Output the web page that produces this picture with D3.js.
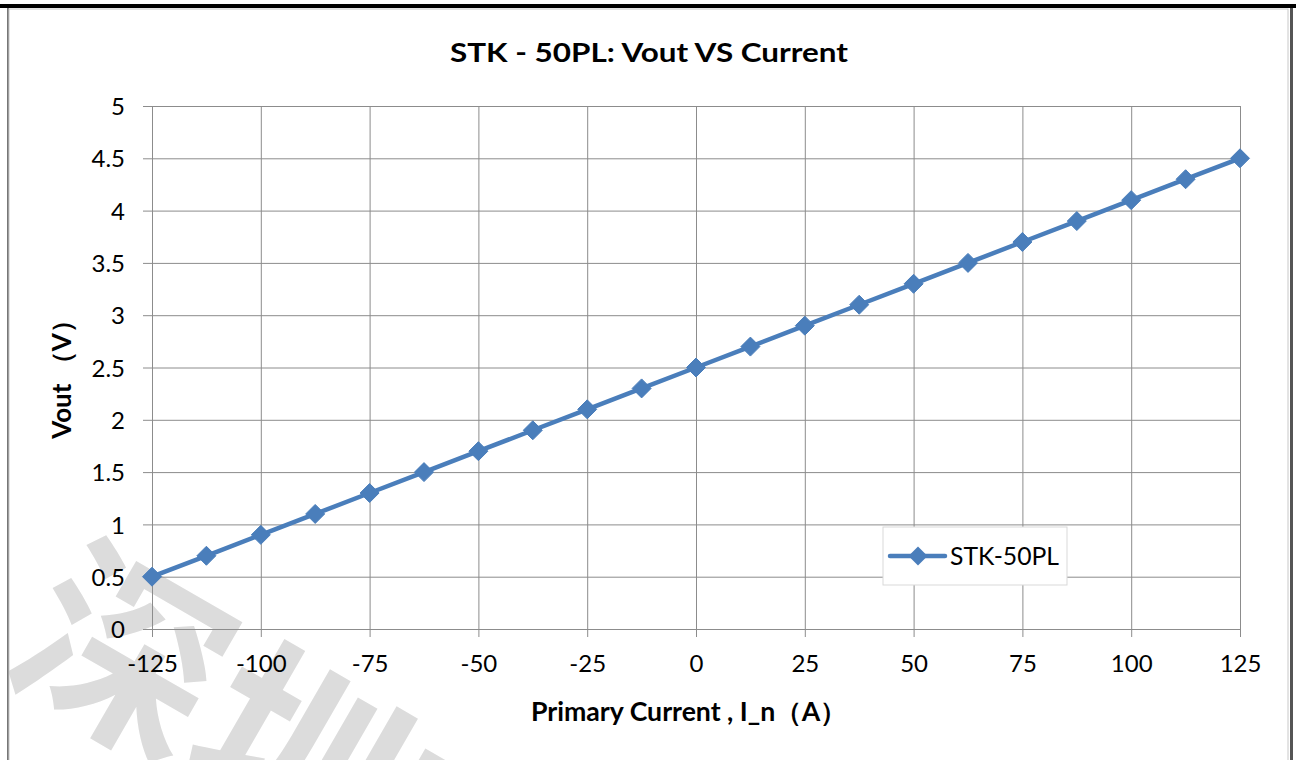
<!DOCTYPE html>
<html>
<head>
<meta charset="utf-8">
<script src="https://cdn.jsdelivr.net/npm/d3@7"></script>
<style>
  html, body { margin: 0; padding: 0; background: #fff; }
  svg { display: block; }
  text { font-family: Lato, "Noto Sans", sans-serif; fill: #000; }
</style>
</head>
<body>
<svg id="chart" width="1296" height="760"></svg>
<script>
// chart data
const currents = [-125, -112.5, -100, -87.5, -75, -62.5, -50, -37.5, -25, -12.5, 0,
                  12.5, 25, 37.5, 50, 62.5, 75, 87.5, 100, 112.5, 125];
const vout = [0.5, 0.7, 0.9, 1.1, 1.3, 1.5, 1.7, 1.9, 2.1, 2.3, 2.5,
              2.7, 2.9, 3.1, 3.3, 3.5, 3.7, 3.9, 4.1, 4.3, 4.5];
const xTicks = [-125, -100, -75, -50, -25, 0, 25, 50, 75, 100, 125];
const yTicks = [0, 0.5, 1, 1.5, 2, 2.5, 3, 3.5, 4, 4.5, 5];
const seriesName = "STK-50PL";

const svg = d3.select("#chart");
const blue = "#4a7ebb";

// watermark (behind everything)
svg.append("text")
    .attr("transform", "translate(0,668) rotate(30)")
    .style("font-family", "'Noto Sans CJK SC'")
    .style("font-size", "200px")
    .style("font-weight", "bold")
    .style("fill", "#dcdcdc")
    .text("深圳市");

// frame
svg.append("rect").attr("x", 0).attr("y", 4).attr("width", 1296).attr("height", 4).attr("fill", "#000");
svg.append("rect").attr("x", 7).attr("y", 8).attr("width", 2).attr("height", 752).attr("fill", "#777");
svg.append("rect").attr("x", 1290).attr("y", 8).attr("width", 3).attr("height", 752).attr("fill", "#555");
svg.append("rect").attr("x", 9).attr("y", 9).attr("width", 1279).attr("height", 760)
    .attr("fill", "none").attr("stroke", "#c8c8c8").attr("stroke-width", 1);

const x = d3.scaleLinear().domain([-125, 125]).range([152, 1240]);
const y = d3.scaleLinear().domain([0, 5]).range([629, 106]);

// gridlines
svg.append("g")
    .attr("transform", "translate(0,629)")
    .call(d3.axisBottom(x).tickValues(xTicks).tickSize(-523).tickFormat(""))
    .call(g => g.select(".domain").remove())
    .call(g => g.selectAll("line").attr("stroke", "#8c8c8c"));
svg.append("g")
    .attr("transform", "translate(152,0)")
    .call(d3.axisLeft(y).tickValues(yTicks).tickSize(-1088).tickFormat(""))
    .call(g => g.select(".domain").remove())
    .call(g => g.selectAll("line").attr("stroke", "#8c8c8c"));

// axes
const xAxis = svg.append("g")
    .attr("transform", "translate(0,629)")
    .call(d3.axisBottom(x).tickValues(xTicks).tickSize(8).tickPadding(18).tickFormat(d => String(d)));
const yAxis = svg.append("g")
    .attr("transform", "translate(152,0)")
    .call(d3.axisLeft(y).tickValues(yTicks).tickSize(9).tickPadding(18).tickFormat(d => String(d)));
[xAxis, yAxis].forEach(g => {
    g.select(".domain").attr("stroke", "#8c8c8c");
    g.selectAll(".tick line").attr("stroke", "#8c8c8c");
    g.selectAll(".tick text")
        .style("font-family", "Lato, sans-serif")
        .style("font-size", "24px")
        .attr("fill", "#000");
});
yAxis.selectAll(".tick text").attr("dy", "0.36em");

// line + markers
const line = d3.line().x((d, i) => x(currents[i])).y(d => y(d));
svg.append("path")
    .datum(vout)
    .attr("fill", "none")
    .attr("stroke", blue)
    .attr("stroke-width", 4.5)
    .attr("stroke-linejoin", "round")
    .attr("d", line);

const diamond = "M0,-9.5L9.5,0L0,9.5L-9.5,0Z";
svg.append("g").selectAll("path")
    .data(vout)
    .join("path")
    .attr("transform", (d, i) => `translate(${x(currents[i])},${y(d)})`)
    .attr("d", diamond)
    .attr("fill", blue)
    .attr("stroke", blue)
    .attr("stroke-width", 1);

// title
svg.append("text")
    .attr("x", 649).attr("y", 62)
    .attr("text-anchor", "middle")
    .style("font-size", "26px").style("font-weight", "bold")
    .attr("textLength", 398).attr("lengthAdjust", "spacingAndGlyphs")
    .text("STK - 50PL: Vout VS Current");

// axis titles
svg.append("text")
    .attr("x", 689).attr("y", 721)
    .attr("text-anchor", "middle")
    .style("font-size", "26px").style("font-weight", "bold")
    .attr("textLength", 316).attr("lengthAdjust", "spacingAndGlyphs")
    .text("Primary Current , I_n（A）");

svg.append("text")
    .attr("transform", "translate(71,373) rotate(-90)")
    .attr("text-anchor", "middle")
    .style("font-size", "26px").style("font-weight", "bold")
    .text("Vout （V）");

// legend
const legend = svg.append("g");
legend.append("rect")
    .attr("x", 883).attr("y", 527).attr("width", 184).attr("height", 58)
    .attr("fill", "#fff").attr("stroke", "#d9d9d9");
legend.append("line")
    .attr("x1", 890).attr("x2", 945).attr("y1", 556).attr("y2", 556)
    .attr("stroke", blue).attr("stroke-width", 4.5).attr("stroke-linecap", "round");
legend.append("path")
    .attr("transform", "translate(918,556)")
    .attr("d", diamond).attr("fill", blue);
legend.append("text")
    .attr("x", 950).attr("y", 565)
    .style("font-size", "25px")
    .attr("textLength", 109).attr("lengthAdjust", "spacingAndGlyphs")
    .text(seriesName);
</script>
</body>
</html>
